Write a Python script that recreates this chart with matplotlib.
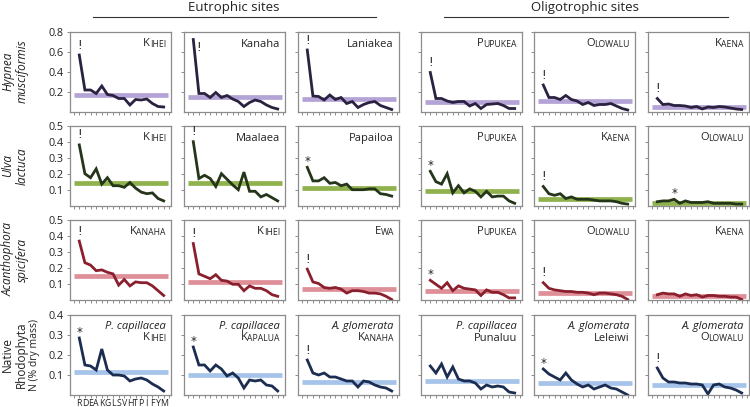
import matplotlib
matplotlib.use("Agg")
import matplotlib.pyplot as plt
import numpy as np

plt.rcParams['font.family'] = ['Open Sans', 'DejaVu Sans']

# ---------------- data ----------------
amino = ["R", "D", "E", "A", "K", "G", "L", "S", "V", "H", "T", "P", "I", "F", "Y", "M"]

row_labels = ["Hypnea\nmusciformis", "Ulva\nlactuca", "Acanthophora\nspicifera", "Native\nRhodophyta"]
row_italic = [True, True, True, False]
row_ylim = [0.8, 0.5, 0.5, 0.4]
row_yticks = [[0.2, 0.4, 0.6, 0.8], [0.1, 0.2, 0.3, 0.4, 0.5], [0.1, 0.2, 0.3, 0.4, 0.5], [0.1, 0.2, 0.3, 0.4]]
row_line_colors = ["#2b2140", "#25351a", "#8a1f2d", "#1c2d52"]
row_band_colors = ["#b4a3d6", "#8fb24c", "#de8f98", "#a6c3ea"]

sites_hypnea = ["KIHEI", "Kanaha", "Laniakea", "PUPUKEA", "OLOWALU", "KAENA"]
sites_ulva = ["KIHEI", "Maalaea", "Papailoa", "PUPUKEA", "KAENA", "OLOWALU"]
sites_acantho = ["KANAHA", "KIHEI", "EWA", "PUPUKEA", "OLOWALU", "KAENA"]
sites_native = ["KIHEI", "KAPALUA", "KANAHA", "Punaluu", "Leleiwi", "OLOWALU"]
species_native = ["P. capillacea", "P. capillacea", "A. glomerata", "P. capillacea", "A. glomerata", "A. glomerata"]

hypnea_vals = [
    [0.565, 0.215, 0.215, 0.18, 0.255, 0.17, 0.16, 0.13, 0.13, 0.065, 0.12, 0.115, 0.125, 0.08, 0.05, 0.045],
    [0.72, 0.18, 0.18, 0.14, 0.19, 0.14, 0.16, 0.125, 0.1, 0.05, 0.09, 0.115, 0.1, 0.065, 0.04, 0.025],
    [0.615, 0.155, 0.15, 0.115, 0.165, 0.12, 0.14, 0.08, 0.1, 0.04, 0.07, 0.09, 0.1, 0.06, 0.04, 0.02],
    [0.39, 0.13, 0.13, 0.105, 0.09, 0.1, 0.1, 0.055, 0.08, 0.03, 0.07, 0.075, 0.08, 0.06, 0.03, 0.03],
    [0.265, 0.14, 0.14, 0.12, 0.16, 0.12, 0.105, 0.07, 0.09, 0.06, 0.07, 0.07, 0.08, 0.055, 0.03, 0.015],
    [0.13, 0.07, 0.075, 0.06, 0.06, 0.055, 0.04, 0.05, 0.025, 0.045, 0.04, 0.05, 0.045, 0.035, 0.025, 0.02],
]
hypnea_mean = [0.165, 0.15, 0.13, 0.1, 0.105, 0.05]

ulva_vals = [
    [0.38, 0.2, 0.175, 0.23, 0.135, 0.175, 0.125, 0.125, 0.115, 0.145, 0.11, 0.085, 0.075, 0.08, 0.045, 0.03],
    [0.4, 0.17, 0.19, 0.17, 0.12, 0.2, 0.165, 0.13, 0.1, 0.21, 0.09, 0.09, 0.055, 0.07, 0.05, 0.03],
    [0.24, 0.155, 0.155, 0.175, 0.14, 0.145, 0.125, 0.135, 0.1, 0.1, 0.1, 0.105, 0.105, 0.075, 0.07, 0.06],
    [0.215, 0.15, 0.135, 0.2, 0.08, 0.125, 0.08, 0.105, 0.09, 0.055, 0.09, 0.055, 0.06, 0.06, 0.03, 0.015],
    [0.12, 0.075, 0.065, 0.075, 0.045, 0.055, 0.04, 0.04, 0.04, 0.035, 0.03, 0.03, 0.03, 0.025, 0.015, 0.01],
    [0.025, 0.03, 0.03, 0.04, 0.015, 0.03, 0.02, 0.02, 0.02, 0.025, 0.015, 0.015, 0.015, 0.015, 0.01, 0.01],
]
ulva_mean = [0.14, 0.14, 0.11, 0.095, 0.045, 0.02]

acantho_vals = [
    [0.365, 0.23, 0.215, 0.18, 0.185, 0.17, 0.16, 0.09, 0.125, 0.085, 0.11, 0.105, 0.105, 0.085, 0.055, 0.025],
    [0.35, 0.16, 0.145, 0.13, 0.155, 0.12, 0.115, 0.095, 0.095, 0.055, 0.085, 0.07, 0.07, 0.055, 0.03, 0.02],
    [0.19, 0.11, 0.1, 0.075, 0.07, 0.075, 0.065, 0.04, 0.055, 0.055, 0.05, 0.04, 0.04, 0.035, 0.02, 0.0],
    [0.12, 0.095, 0.07, 0.105, 0.055, 0.085, 0.07, 0.065, 0.06, 0.025, 0.06, 0.045, 0.045, 0.03, 0.01, 0.01],
    [0.105, 0.07, 0.06, 0.055, 0.05, 0.05, 0.045, 0.045, 0.04, 0.03, 0.04, 0.04, 0.035, 0.03, 0.02, 0.0],
    [0.03, 0.04, 0.035, 0.035, 0.02, 0.035, 0.025, 0.03, 0.015, 0.025, 0.025, 0.02, 0.02, 0.015, 0.015, 0.0],
]
acantho_mean = [0.145, 0.11, 0.065, 0.055, 0.04, 0.02]

native_vals = [
    [0.285, 0.15, 0.145, 0.125, 0.23, 0.125, 0.1, 0.1, 0.095, 0.07, 0.08, 0.085, 0.075, 0.055, 0.04, 0.02],
    [0.24, 0.15, 0.15, 0.12, 0.15, 0.13, 0.095, 0.11, 0.085, 0.035, 0.075, 0.07, 0.075, 0.05, 0.045, 0.02],
    [0.175, 0.11, 0.1, 0.11, 0.09, 0.09, 0.08, 0.07, 0.07, 0.04, 0.07, 0.065, 0.05, 0.04, 0.035, 0.02],
    [0.145, 0.11, 0.155, 0.09, 0.14, 0.08, 0.07, 0.07, 0.06, 0.03, 0.05, 0.04, 0.045, 0.04, 0.015, 0.01],
    [0.13, 0.105, 0.09, 0.075, 0.11, 0.075, 0.055, 0.04, 0.05, 0.03, 0.04, 0.05, 0.035, 0.03, 0.015, 0.0],
    [0.135, 0.085, 0.065, 0.065, 0.06, 0.06, 0.055, 0.055, 0.05, 0.005, 0.05, 0.055, 0.04, 0.035, 0.025, 0.01],
]
native_mean = [0.115, 0.1, 0.065, 0.07, 0.06, 0.05]

# significance symbols: (symbol, index of point it sits above)
marks = [
    [("!", 0), ("!", 0), ("!", 0), ("!", 0), ("!", 0), ("!", 0)],
    [("!", 0), ("!", 0), ("*", 0), ("*", 0), ("!", 0), ("*", 3)],
    [("!", 0), ("!", 0), ("!", 0), ("*", 0), ("!", 0), None],
    [("*", 0), ("*", 0), ("!", 0), None, ("*", 0), ("!", 0)],
]

all_vals = [hypnea_vals, ulva_vals, acantho_vals, native_vals]
all_means = [hypnea_mean, ulva_mean, acantho_mean, native_mean]
all_sites = [sites_hypnea, sites_ulva, sites_acantho, sites_native]

# ---------------- layout (pixels) ----------------
W, H = 750, 407
col_left = [70, 184, 298, 421, 534, 648]
row_top = [31.5, 125.7, 219.5, 315]
aw, ah = 101, 80

fig = plt.figure(figsize=(W / 100, H / 100), dpi=100)
spine_col = "#8c8c8c"
text_col = "#222222"


def smallcaps(ax, word, x, y, fs):
    rest = ax.text(x, y, word[1:], transform=ax.transAxes, ha="right", va="baseline",
                   fontsize=fs * 0.78, color=text_col)
    ax.annotate(word[0], xy=(0, 0), xycoords=rest, xytext=(0.35, 0), textcoords="offset points",
                ha="right", va="bottom", fontsize=fs, color=text_col)


xs = np.arange(len(amino))
for r in range(4):
    for c in range(6):
        left = col_left[c] / W
        bottom = (H - row_top[r] - ah) / H
        ax = fig.add_axes([left, bottom, aw / W, ah / H])
        vals = all_vals[r][c]
        ax.axhline(all_means[r][c], xmin=0.04, xmax=0.97, color=row_band_colors[r], lw=3.4,
                   solid_capstyle="butt", zorder=1)
        ax.plot(xs, vals, color=row_line_colors[r], lw=2.0, zorder=2, solid_joinstyle="miter")
        ax.set_xlim(-1.65, 16.3)
        ax.set_ylim(0, row_ylim[r])
        ax.set_yticks(row_yticks[r])
        ax.set_xticks(np.arange(-1, 17))
        if r == 3 and c == 0:
            ax.set_xticklabels([""] + amino + [""], fontsize=6.3, color=text_col)
        else:
            ax.set_xticklabels([])
        if c == 0:
            ax.set_yticklabels([f"{t:.1f}" for t in row_yticks[r]], fontsize=7.8, color=text_col)
        else:
            ax.set_yticklabels([])
        ax.tick_params(axis="both", direction="out", length=2.5, width=0.7, color=spine_col)
        ax.tick_params(axis="x", pad=0.3)
        ax.tick_params(axis="y", pad=2)
        for s in ax.spines.values():
            s.set_color(spine_col)
            s.set_linewidth(0.9)

        # site label
        site = all_sites[r][c]
        if r == 3:
            ax.text(0.95, 0.82, species_native[c], transform=ax.transAxes, ha="right",
                    va="baseline", fontsize=8, style="italic", color=text_col)
            sy = 0.67
        else:
            sy = 0.81
        if site.isupper():
            smallcaps(ax, site, 0.95, sy, 8)
        else:
            ax.text(0.95, sy, site, transform=ax.transAxes, ha="right", va="baseline",
                    fontsize=8, color=text_col)

        m = marks[r][c]
        if m is not None:
            sym, idx = m
            if r == 0 and c == 1:
                ax.annotate(sym, xy=(idx + 1.0, vals[idx]), xytext=(0, -1), textcoords="offset points",
                            ha="center", va="top", fontsize=8.5, color=text_col, family="DejaVu Sans")
            else:
                off = 2.5 if sym == "!" else -0.5
                ax.annotate(sym, xy=(idx, vals[idx]), xytext=(0, off), textcoords="offset points",
                            ha="center", va="bottom", fontsize=8.5, color=text_col, family="DejaVu Sans")

# row labels
for r in range(4):
    yc = 1 - (row_top[r] + ah / 2) / H
    xpos = 15 / W if r < 3 else 14 / W
    fig.text(xpos, yc, row_labels[r], rotation=90, ha="center", va="center", fontsize=8.5,
             style="italic" if row_italic[r] else "normal", color=text_col, linespacing=1.1)
fig.text(34 / W, 1 - (row_top[3] + ah / 2) / H, "N (% dry mass)", rotation=90, ha="center",
         va="center", fontsize=7.5, color=text_col)

# group headers
fig.text(234 / W, 1 - 7 / H, "Eutrophic sites", ha="center", va="center", fontsize=9.5, color=text_col)
fig.text(585 / W, 1 - 7 / H, "Oligotrophic sites", ha="center", va="center", fontsize=9.5, color=text_col)
fig.add_artist(plt.Line2D([92.5 / W, 376 / W], [1 - 16.7 / H] * 2, color="#333333", lw=0.8))
fig.add_artist(plt.Line2D([444 / W, 727.7 / W], [1 - 16.7 / H] * 2, color="#333333", lw=0.8))

fig.savefig("out.png", dpi=100)
